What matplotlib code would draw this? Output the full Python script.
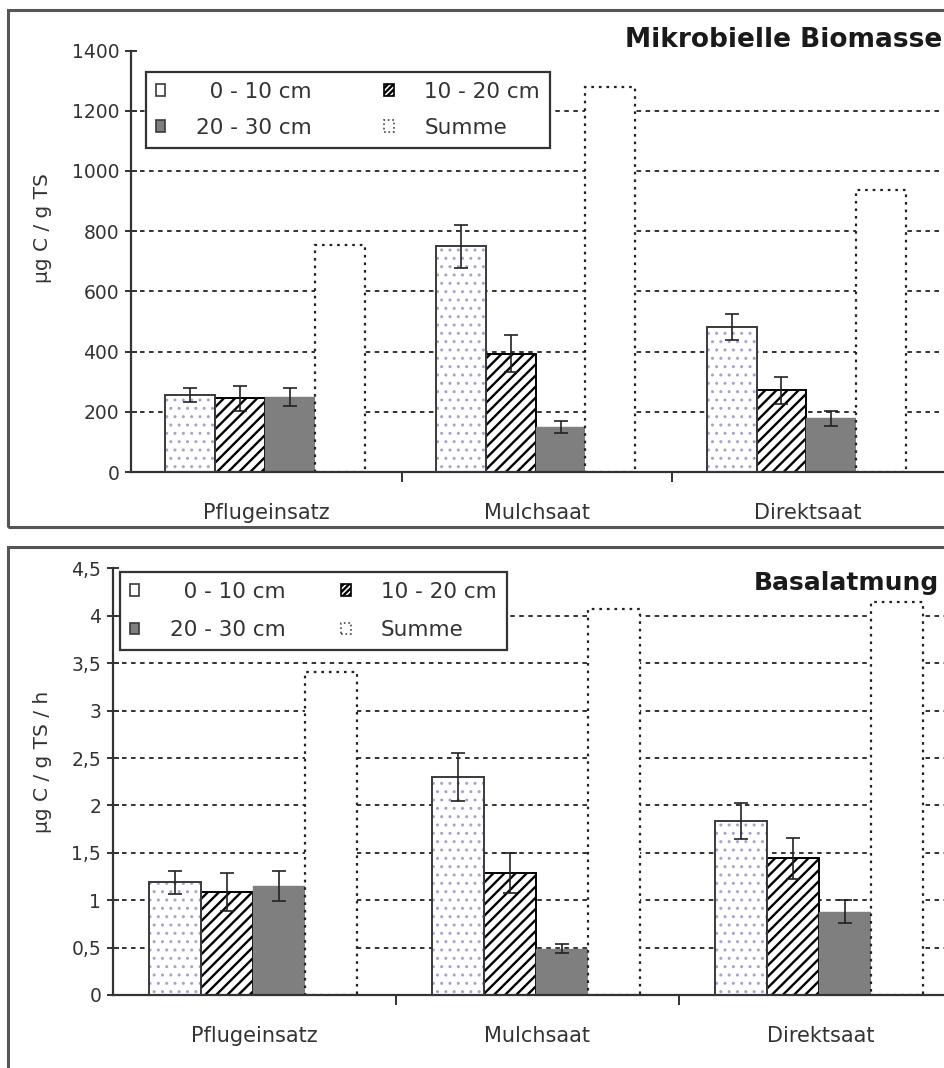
import matplotlib.pyplot as plt
import numpy as np
from matplotlib.patches import Patch, Rectangle
from matplotlib.ticker import FuncFormatter

plt.rcParams['font.family'] = ['DejaVu Sans']
plt.rcParams['hatch.linewidth'] = 1.7

sites = ["Pflugeinsatz", "Mulchsaat", "Direktsaat"]
labels = ["0 - 10 cm", "10 - 20 cm", "20 - 30 cm", "Summe"]

# Mikrobielle Biomasse, µg C / g TS
bio_0_10 = [255, 750, 483]
bio_10_20 = [245, 393, 272]
bio_20_30 = [249, 148, 178]
bio_err_0_10 = [23, 72, 43]
bio_err_10_20 = [42, 62, 45]
bio_err_20_30 = [30, 20, 24]
bio_summe = [753, 1278, 937]
bio_ticks = [0, 200, 400, 600, 800, 1000, 1200, 1400]

# Basalatmung, µg C / g TS / h
bas_0_10 = [1.19, 2.30, 1.84]
bas_10_20 = [1.09, 1.29, 1.44]
bas_20_30 = [1.15, 0.49, 0.88]
bas_err_0_10 = [0.12, 0.25, 0.19]
bas_err_10_20 = [0.20, 0.21, 0.22]
bas_err_20_30 = [0.16, 0.05, 0.12]
bas_summe = [3.41, 4.07, 4.15]
bas_ticks = [0, 0.5, 1, 1.5, 2, 2.5, 3, 3.5, 4, 4.5]

W, H = 944, 1068
DOT = '#a4a4d0'
EDGE = '#3a3a3a'
GREY = '#7f7f7f'


def fx(px):
    return px / W


def fy(py):
    return 1 - py / H


def hatch_lw(bars, lw):
    for b in bars:
        if hasattr(b, 'set_hatch_linewidth'):
            b.set_hatch_linewidth(lw)


def panel(ax, layers, errs, summe, ticks, fmt):
    x = np.arange(len(sites))
    w = 0.184
    offs = [-1.5 * w, -0.5 * w, 0.5 * w, 1.5 * w]
    sh = -0.005

    # 0 - 10 cm: white with small dots
    b = ax.bar(x + offs[0] + sh, layers[0], w, color='white', edgecolor=DOT,
               hatch='..', linewidth=0, zorder=2)
    hatch_lw(b, 1.0)
    ax.bar(x + offs[0] + sh, layers[0], w, fill=False, edgecolor=EDGE,
           linewidth=1.4, zorder=3)
    # 10 - 20 cm: diagonal stripes
    b = ax.bar(x + offs[1] + sh, layers[1], w, color='white', edgecolor='black',
               hatch='///', linewidth=1.4, zorder=2)
    hatch_lw(b, 1.7)
    # 20 - 30 cm: grey
    ax.bar(x + offs[2] + sh, layers[2], w, color=GREY, edgecolor=GREY,
           linewidth=1.0, zorder=2)
    # Summe: white with dotted outline
    ax.bar(x + offs[3] + sh, summe, w, color='white', edgecolor='#222222',
           linestyle=(0, (1.2, 2.2)), linewidth=1.6, zorder=2)

    for i in range(3):
        ax.errorbar(x + offs[i] + sh, layers[i], yerr=errs[i], fmt='none',
                    ecolor='#222222', elinewidth=1.2, capsize=5, capthick=1.2,
                    zorder=4)

    for t in ticks[1:-1]:
        ax.axhline(t, color='#222222', linestyle=(0, (2.5, 2.5)),
                   linewidth=1.3, zorder=1)

    ax.set_xlim(-0.5, 2.5)
    ax.set_ylim(ticks[0], ticks[-1])
    ax.set_yticks(ticks)
    ax.yaxis.set_major_formatter(FuncFormatter(fmt))
    ax.set_xticks(x)
    ax.set_xticklabels(sites, fontsize=15, color='#333333')
    ax.set_xticks([0.5, 1.5], minor=True)
    ax.tick_params(axis='x', which='major', length=0, pad=22)
    ax.tick_params(axis='x', which='minor', direction='out', length=7,
                   width=1.4, color='#333333')
    ax.tick_params(axis='y', direction='inout', length=9, width=1.4,
                   color='#333333', labelsize=13.5, labelcolor='#333333', pad=4)
    for s in ['top', 'right']:
        ax.spines[s].set_visible(False)
    for s in ['left', 'bottom']:
        ax.spines[s].set_color('#333333')
        ax.spines[s].set_linewidth(1.6)
    ax.patch.set_alpha(0)


def legend(ax, x0, y0, colsp, lsp):
    hs = [
        Patch(facecolor='white', edgecolor=EDGE, linewidth=1.2),
        Patch(facecolor=GREY, edgecolor=EDGE, linewidth=1.2),
        Patch(facecolor='white', edgecolor='black', hatch='//////', linewidth=1.2),
        Patch(facecolor='white', edgecolor='#444444', linestyle=':', linewidth=1.2),
    ]
    # figure space in front of the one-digit label, as in the original
    names = ["\u2007" + labels[0], labels[2], labels[1], labels[3]]
    lg = ax.legend(hs, names, ncol=2,
                   loc='upper left', bbox_to_anchor=(fx(x0), fy(y0)),
                   bbox_transform=ax.figure.transFigure, borderaxespad=0,
                   fontsize=15.5, frameon=True, fancybox=False, framealpha=1,
                   edgecolor='#333333', handlelength=0.45, handleheight=0.45,
                   handletextpad=1.4, columnspacing=colsp, labelspacing=lsp,
                   borderpad=0.45)
    lg.get_frame().set_linewidth(1.6)
    for t in lg.get_texts():
        t.set_color('#333333')
    lg.set_zorder(10)


fig = plt.figure(figsize=(W / 100, H / 100), dpi=100)

# panel frames
fig.patches.append(Rectangle((fx(8), fy(527)), fx(980), 517 / H, fill=False,
                             edgecolor='#555555', linewidth=2.2,
                             transform=fig.transFigure, figure=fig))
fig.patches.append(Rectangle((fx(8), fy(1090)), fx(980), 543 / H, fill=False,
                             edgecolor='#555555', linewidth=2.2,
                             transform=fig.transFigure, figure=fig))

ax1 = fig.add_axes([fx(131), fy(472), 812 / W, (472 - 50.6) / H])
panel(ax1, [bio_0_10, bio_10_20, bio_20_30],
      [bio_err_0_10, bio_err_10_20, bio_err_20_30], bio_summe, bio_ticks,
      lambda v, _: f"{v:g}")
legend(ax1, 146, 72, 3.4, 0.75)
fig.text(fx(625), fy(40), "Mikrobielle Biomasse", fontsize=19,
         fontweight='bold', ha='left', va='center', color='#1a1a1a')
fig.text(fx(43), fy(228), "µg C / g TS", rotation=90, fontsize=14.5,
         ha='center', va='center', color='#333333')

ax2 = fig.add_axes([fx(113), fy(995), 849 / W, (995 - 568.4) / H])
panel(ax2, [bas_0_10, bas_10_20, bas_20_30],
      [bas_err_0_10, bas_err_10_20, bas_err_20_30], bas_summe, bas_ticks,
      lambda v, _: f"{v:g}".replace('.', ','))
legend(ax2, 120, 572, 2.6, 0.85)
fig.text(fx(939), fy(583), "Basalatmung", fontsize=18,
         fontweight='bold', ha='right', va='center', color='#1a1a1a')
fig.text(fx(43), fy(762), "µg C / g TS / h", rotation=90, fontsize=14.5,
         ha='center', va='center', color='#333333')

fig.savefig("out.png", dpi=100)
